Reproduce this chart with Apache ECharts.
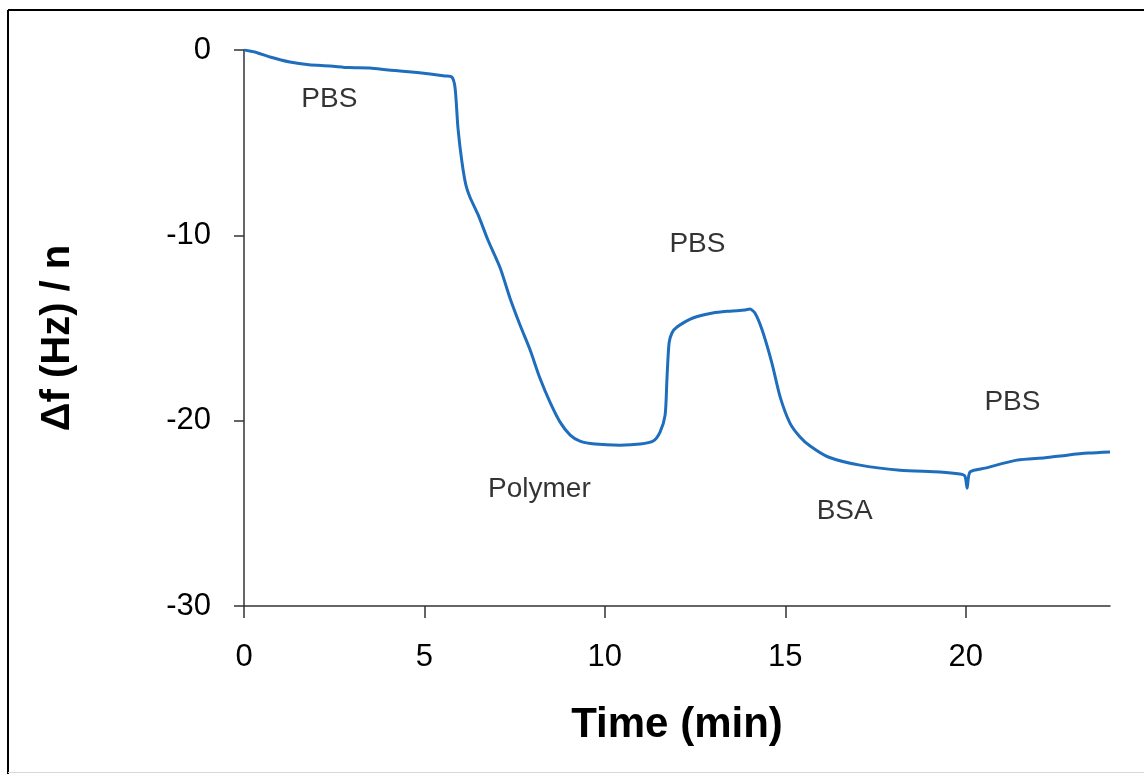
<!DOCTYPE html>
<html>
<head>
<meta charset="utf-8">
<title>QCM frequency shift</title>
<script src="https://cdn.jsdelivr.net/npm/echarts@6/dist/echarts.min.js"></script>
<style>
  html, body { margin: 0; padding: 0; background: #fff; }
  #chart { width: 1144px; height: 774px; }
</style>
</head>
<body>
<div id="chart"></div>
<script>
// Frequency shift trace: time (min) and Δf/n (Hz)
const timeMin = [
  0, 0.30, 0.72, 1.27, 1.80, 2.38, 2.90, 3.49, 4.00, 4.32, 4.80, 5.16, 5.57, 5.76,
  5.85, 5.93, 6.04, 6.15, 6.26, 6.49, 6.76, 7.10, 7.37, 7.65, 7.93, 8.20, 8.48,
  8.76, 9.04, 9.31, 9.73, 10.42, 10.98, 11.34, 11.53, 11.67, 11.72, 11.78, 11.86,
  12.00, 12.44, 12.99, 13.47, 13.89, 14.02, 14.16, 14.36, 14.63, 14.86, 15.13,
  15.41, 15.69, 16.19, 17.07, 18.18, 19.29, 19.84, 19.98, 20.04, 20.12, 20.54,
  21.42, 22.20, 22.81, 23.40, 24.00
];
const deltaF = [
  0, -0.11, -0.38, -0.65, -0.80, -0.86, -0.95, -0.97, -1.08, -1.13, -1.22, -1.30, -1.40, -1.46,
  -2.05, -4.21, -6.04, -7.29, -7.93, -8.90, -10.25, -11.76, -13.38, -14.84, -16.19, -17.70, -19.00,
  -20.08, -20.78, -21.10, -21.26, -21.32, -21.26, -21.10, -20.62, -19.70, -17.81, -15.81, -15.27,
  -14.95, -14.46, -14.19, -14.09, -14.03, -13.98, -14.19, -15.11, -16.89, -18.73, -20.13,
  -20.88, -21.37, -21.96, -22.40, -22.67, -22.77, -22.88, -22.99, -23.64, -22.77, -22.56,
  -22.13, -22.00, -21.86, -21.75, -21.69
];

// Step annotations (solution flowing over the sensor)
const stepNames = ['PBS', 'Polymer', 'PBS', 'BSA', 'PBS'];
const stepTime  = [2.38, 8.20, 12.58, 16.66, 21.31];
const stepDf    = [-2.70, -23.75, -10.52, -24.93, -19.05];

const xTicks = [0, 5, 10, 15, 20];
const yTicks = [0, -10, -20, -30];

const font = "'Liberation Sans', Arial, sans-serif";

const trace = timeMin.map((t, i) => [t, deltaF[i]]);
const steps = stepNames.map((n, i) => ({ name: n, value: [stepTime[i], stepDf[i]] }));

const chart = echarts.init(document.getElementById('chart'), null, { renderer: 'canvas' });
chart.setOption({
  backgroundColor: '#ffffff',
  animation: false,
  grid: { left: 244, top: 50, right: 34, bottom: 168, containLabel: false },
  xAxis: {
    type: 'value',
    min: 0, max: 24, interval: 5,
    name: 'Time (min)',
    nameLocation: 'middle',
    nameGap: 98,
    nameTextStyle: { fontFamily: font, fontSize: 42, fontWeight: 'bold', color: '#000' },
    axisLine: { show: true, onZero: false, lineStyle: { color: '#333', width: 1.5 } },
    axisTick: { show: true, inside: false, length: 12, customValues: xTicks, lineStyle: { color: '#333', width: 1.5 } },
    axisLabel: { customValues: xTicks, margin: 36, fontFamily: font, fontSize: 31, color: '#000' },
    splitLine: { show: false }
  },
  yAxis: {
    type: 'value',
    min: -30, max: 0, interval: 10,
    name: 'Δf (Hz) / n',
    nameLocation: 'middle',
    nameGap: 166,
    nameRotate: 90,
    nameTextStyle: { fontFamily: font, fontSize: 40, fontWeight: 'bold', color: '#000', padding: [0, 20, 0, 0] },
    axisLine: { show: true, onZero: false, lineStyle: { color: '#333', width: 1.5 } },
    axisTick: { show: true, inside: false, length: 10, customValues: yTicks, lineStyle: { color: '#333', width: 1.5 } },
    axisLabel: { customValues: yTicks, margin: 33, fontFamily: font, fontSize: 31, color: '#000' },
    splitLine: { show: false }
  },
  series: [
    {
      type: 'line',
      data: trace,
      showSymbol: false,
      smooth: 0.25,
      lineStyle: { color: '#1f6ebe', width: 3 },
      z: 3
    },
    {
      type: 'scatter',
      data: steps,
      symbolSize: 1,
      itemStyle: { color: 'rgba(0,0,0,0)' },
      silent: true,
      label: {
        show: true,
        position: [0, 0],
        align: 'center',
        verticalAlign: 'middle',
        formatter: p => p.name,
        fontFamily: font,
        fontSize: 28,
        color: '#000',
        textBorderWidth: 0
      },
      z: 4
    }
  ],
  graphic: [
    { type: 'line', shape: { x1: 8, y1: 10, x2: 1144, y2: 10 }, style: { stroke: '#000', lineWidth: 2 }, silent: true },
    { type: 'line', shape: { x1: 8, y1: 10, x2: 8, y2: 774 }, style: { stroke: '#000', lineWidth: 2 }, silent: true },
    { type: 'line', shape: { x1: 8, y1: 772.5, x2: 1144, y2: 772.5 }, style: { stroke: '#d8d8d8', lineWidth: 1 }, silent: true }
  ]
});
</script>
</body>
</html>
